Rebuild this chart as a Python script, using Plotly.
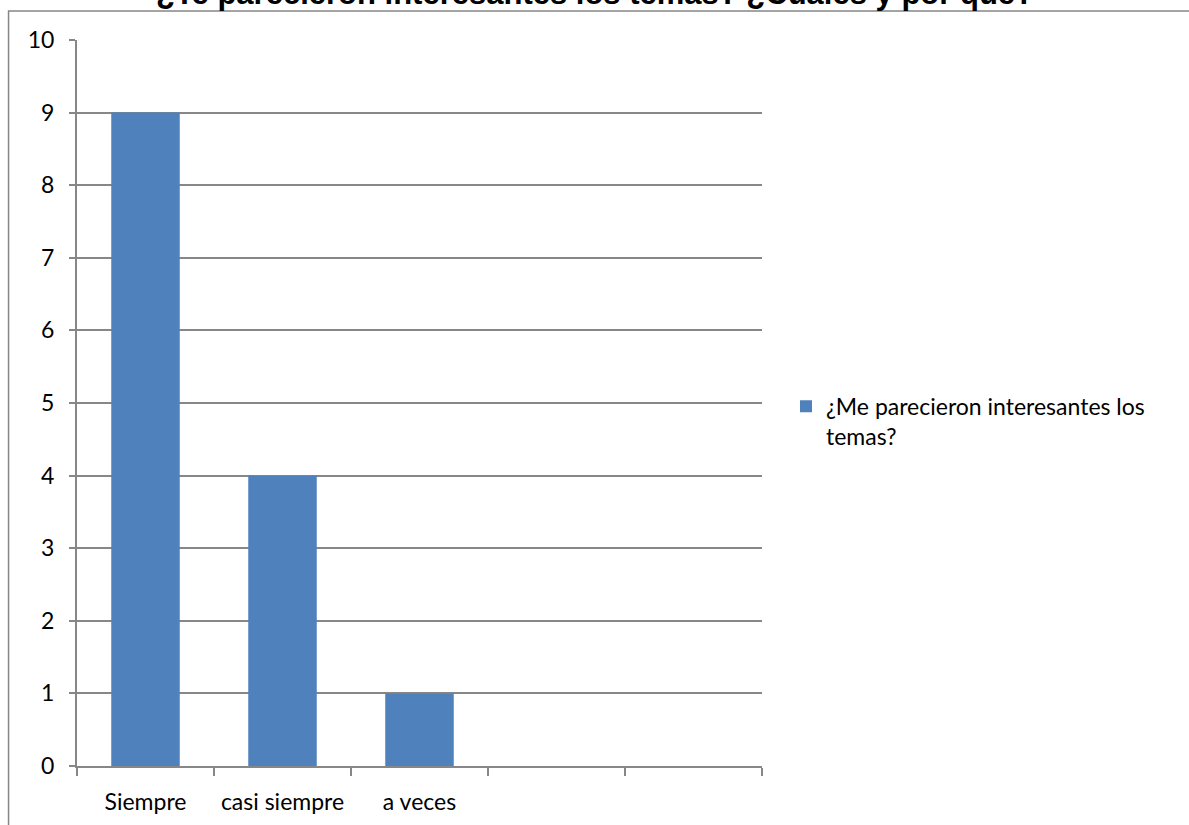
import plotly.graph_objects as go

categories = ["Siempre", "casi siempre", "a veces", " ", "  "]
values = [9, 4, 1, None, None]
series_name = "¿Me parecieron interesantes los<br>temas?"
title_text = "¿Te parecieron interesantes los temas? ¿Cuáles y por qué?"
y_ticks = list(range(0, 11))

W, H = 1189, 825
L, R, T, B = 76.5, 762, 40.4, 766
pw, ph = R - L, B - T

def px_x(x):
    return (x - L) / pw

def px_y(y):
    return (B - y) / ph

fig = go.Figure()
fig.add_trace(go.Bar(
    x=categories, y=values, name=series_name,
    marker=dict(color="#4F81BD", line=dict(width=0)),
    showlegend=True,
))

grid_col = "#878787"
font_fam = "Lato, 'Open Sans', sans-serif"
fsize = 23

fig.update_layout(
    width=W, height=H,
    margin=dict(l=L, r=W - R, t=T, b=H - B, pad=0, autoexpand=False),
    paper_bgcolor="white", plot_bgcolor="white",
    bargap=0.5,
    font=dict(family=font_fam, size=fsize, color="black"),
    showlegend=True,
    legend=dict(
        x=px_x(786), y=px_y(385), xanchor="left", yanchor="top",
        font=dict(family=font_fam, size=fsize, color="black"),
        valign="top", itemwidth=30, tracegroupgap=0,
    ),
    xaxis=dict(
        type="category", categoryorder="array", categoryarray=categories,
        range=[-0.5, 4.5], showgrid=False, automargin=False,
        showline=True, linecolor=grid_col, linewidth=2,
        ticks="outside", tickson="boundaries", ticklen=8, tickwidth=2, tickcolor=grid_col,
        tickangle=0, ticklabelstandoff=14,
        tickfont=dict(family=font_fam, size=fsize, color="black"),
        fixedrange=True,
    ),
    yaxis=dict(
        range=[0, 10], tickvals=y_ticks, showgrid=True, gridcolor=grid_col, gridwidth=2,
        showline=True, linecolor=grid_col, linewidth=2, automargin=False,
        ticks="outside", ticklen=6, tickwidth=2, tickcolor=grid_col,
        ticklabelstandoff=10,
        tickfont=dict(family=font_fam, size=fsize, color="black"),
        zeroline=False, fixedrange=True,
    ),
)

# outer chart-area frame (cropped at right/bottom)
fig.add_shape(type="rect", xref="paper", yref="paper",
              x0=px_x(8), x1=px_x(1300), y0=px_y(900), y1=px_y(11.5),
              line=dict(color="#868686", width=1.5), fillcolor="rgba(0,0,0,0)", layer="below")

fig.add_annotation(
    text="<b>" + title_text + "</b>", xref="paper", yref="paper",
    x=px_x(595), y=px_y(-6), xanchor="center", yanchor="middle",
    showarrow=False, font=dict(family="Liberation Sans, Arial, sans-serif", size=31, color="black"),
)

fig.write_html("out.html", config={"displayModeBar": False},
               post_script="document.body.style.margin='0px';document.body.style.overflow='hidden';")
